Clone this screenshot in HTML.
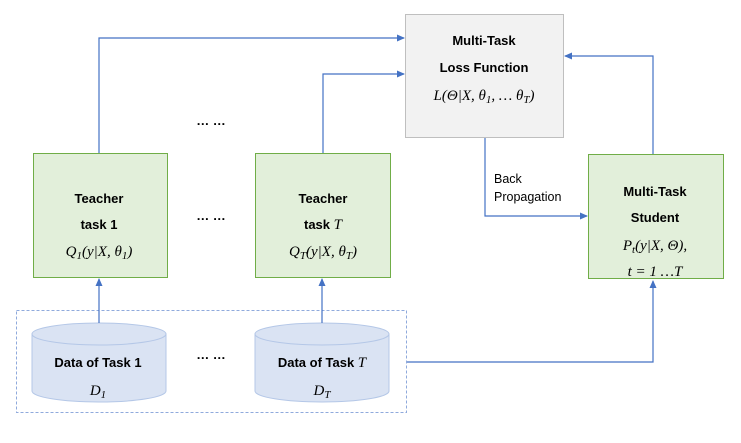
<!DOCTYPE html>
<html><head><meta charset="utf-8"><style>
body{margin:0;background:#fff;}
svg text{font-family:"Liberation Sans",sans-serif;}
.b{font-weight:bold;font-size:13px;}
.m{font-family:"Liberation Serif",serif;font-style:italic;font-size:15px;}
.s{font-size:11px;}
</style></head><body>
<svg width="741" height="438" viewBox="0 0 741 438" xmlns="http://www.w3.org/2000/svg">
<defs><marker id="a" markerWidth="8" markerHeight="8" refX="7" refY="4" orient="auto" markerUnits="userSpaceOnUse"><path d="M0,0.5 L8,4 L0,7.5z" fill="#4472c4"/></marker></defs>
<rect x="16.5" y="310.5" width="390" height="102" fill="none" stroke="#8faadc" stroke-dasharray="3,2"/>
<rect x="405.5" y="14.5" width="158" height="123" fill="#f2f2f2" stroke="#bfbfbf"/>
<rect x="33.5" y="153.5" width="134" height="124" fill="#e2efda" stroke="#70ad47"/>
<rect x="255.5" y="153.5" width="135" height="124" fill="#e2efda" stroke="#70ad47"/>
<rect x="588.5" y="154.5" width="135" height="124" fill="#e2efda" stroke="#70ad47"/>
<g fill="#dae3f3" stroke="#b4c7e7">
<path d="M32,334 L32,391 A67,11 0 0 0 166,391 L166,334"/>
<ellipse cx="99" cy="334" rx="67" ry="11"/>
<path d="M255,334 L255,391 A67,11 0 0 0 389,391 L389,334"/>
<ellipse cx="322" cy="334" rx="67" ry="11"/>
</g>
<g fill="none" stroke="#4472c4" stroke-width="1.2">
<path d="M99,153 L99,38 L404,38" marker-end="url(#a)"/>
<path d="M323,153 L323,74 L404,74" marker-end="url(#a)"/>
<path d="M653,154 L653,56 L565,56" marker-end="url(#a)"/>
<path d="M485,138 L485,216 L587,216" marker-end="url(#a)"/>
<path d="M407,362 L653,362 L653,281" marker-end="url(#a)"/>
<path d="M99,323 L99,279" marker-end="url(#a)"/>
<path d="M322,323 L322,279" marker-end="url(#a)"/>
</g>
<g text-anchor="middle">
<text class="b" x="484" y="45">Multi-Task</text>
<text class="b" x="484" y="72">Loss Function</text>
<text class="m" x="484" y="100">L(Θ|X, θ<tspan class="s" dy="3">1</tspan><tspan dy="-3">, … θ</tspan><tspan class="s" dy="3">T</tspan><tspan dy="-3">)</tspan></text>
<text class="b" x="99" y="203">Teacher</text>
<text class="b" x="99" y="229">task 1</text>
<text class="m" x="99" y="256">Q<tspan class="s" dy="3">1</tspan><tspan dy="-3">(y|X, θ</tspan><tspan class="s" dy="3">1</tspan><tspan dy="-3">)</tspan></text>
<text class="b" x="323" y="203">Teacher</text>
<text class="b" x="323" y="229">task <tspan class="m" font-weight="normal">T</tspan></text>
<text class="m" x="323" y="256">Q<tspan class="s" dy="3">T</tspan><tspan dy="-3">(y|X, θ</tspan><tspan class="s" dy="3">T</tspan><tspan dy="-3">)</tspan></text>
<text class="b" x="655" y="196">Multi-Task</text>
<text class="b" x="655" y="222">Student</text>
<text class="m" x="655" y="250">P<tspan class="s" dy="3">t</tspan><tspan dy="-3">(y|X, Θ),</tspan></text>
<text class="m" x="655" y="276">t = 1 …T</text>
<text class="b" x="98" y="367">Data of Task 1</text>
<text class="m" x="98" y="395">D<tspan class="s" dy="3">1</tspan></text>
<text class="b" x="322" y="367">Data of Task <tspan class="m" font-weight="normal">T</tspan></text>
<text class="m" x="322" y="395">D<tspan class="s" dy="3">T</tspan></text>
<text class="b" x="211" y="125" font-size="14">… …</text>
<text class="b" x="211" y="220" font-size="14">… …</text>
<text class="b" x="211" y="359" font-size="14">… …</text>
</g>
<text x="494" y="183" font-size="12.5">Back</text>
<text x="494" y="201" font-size="12.5">Propagation</text>
</svg>
</body></html>
